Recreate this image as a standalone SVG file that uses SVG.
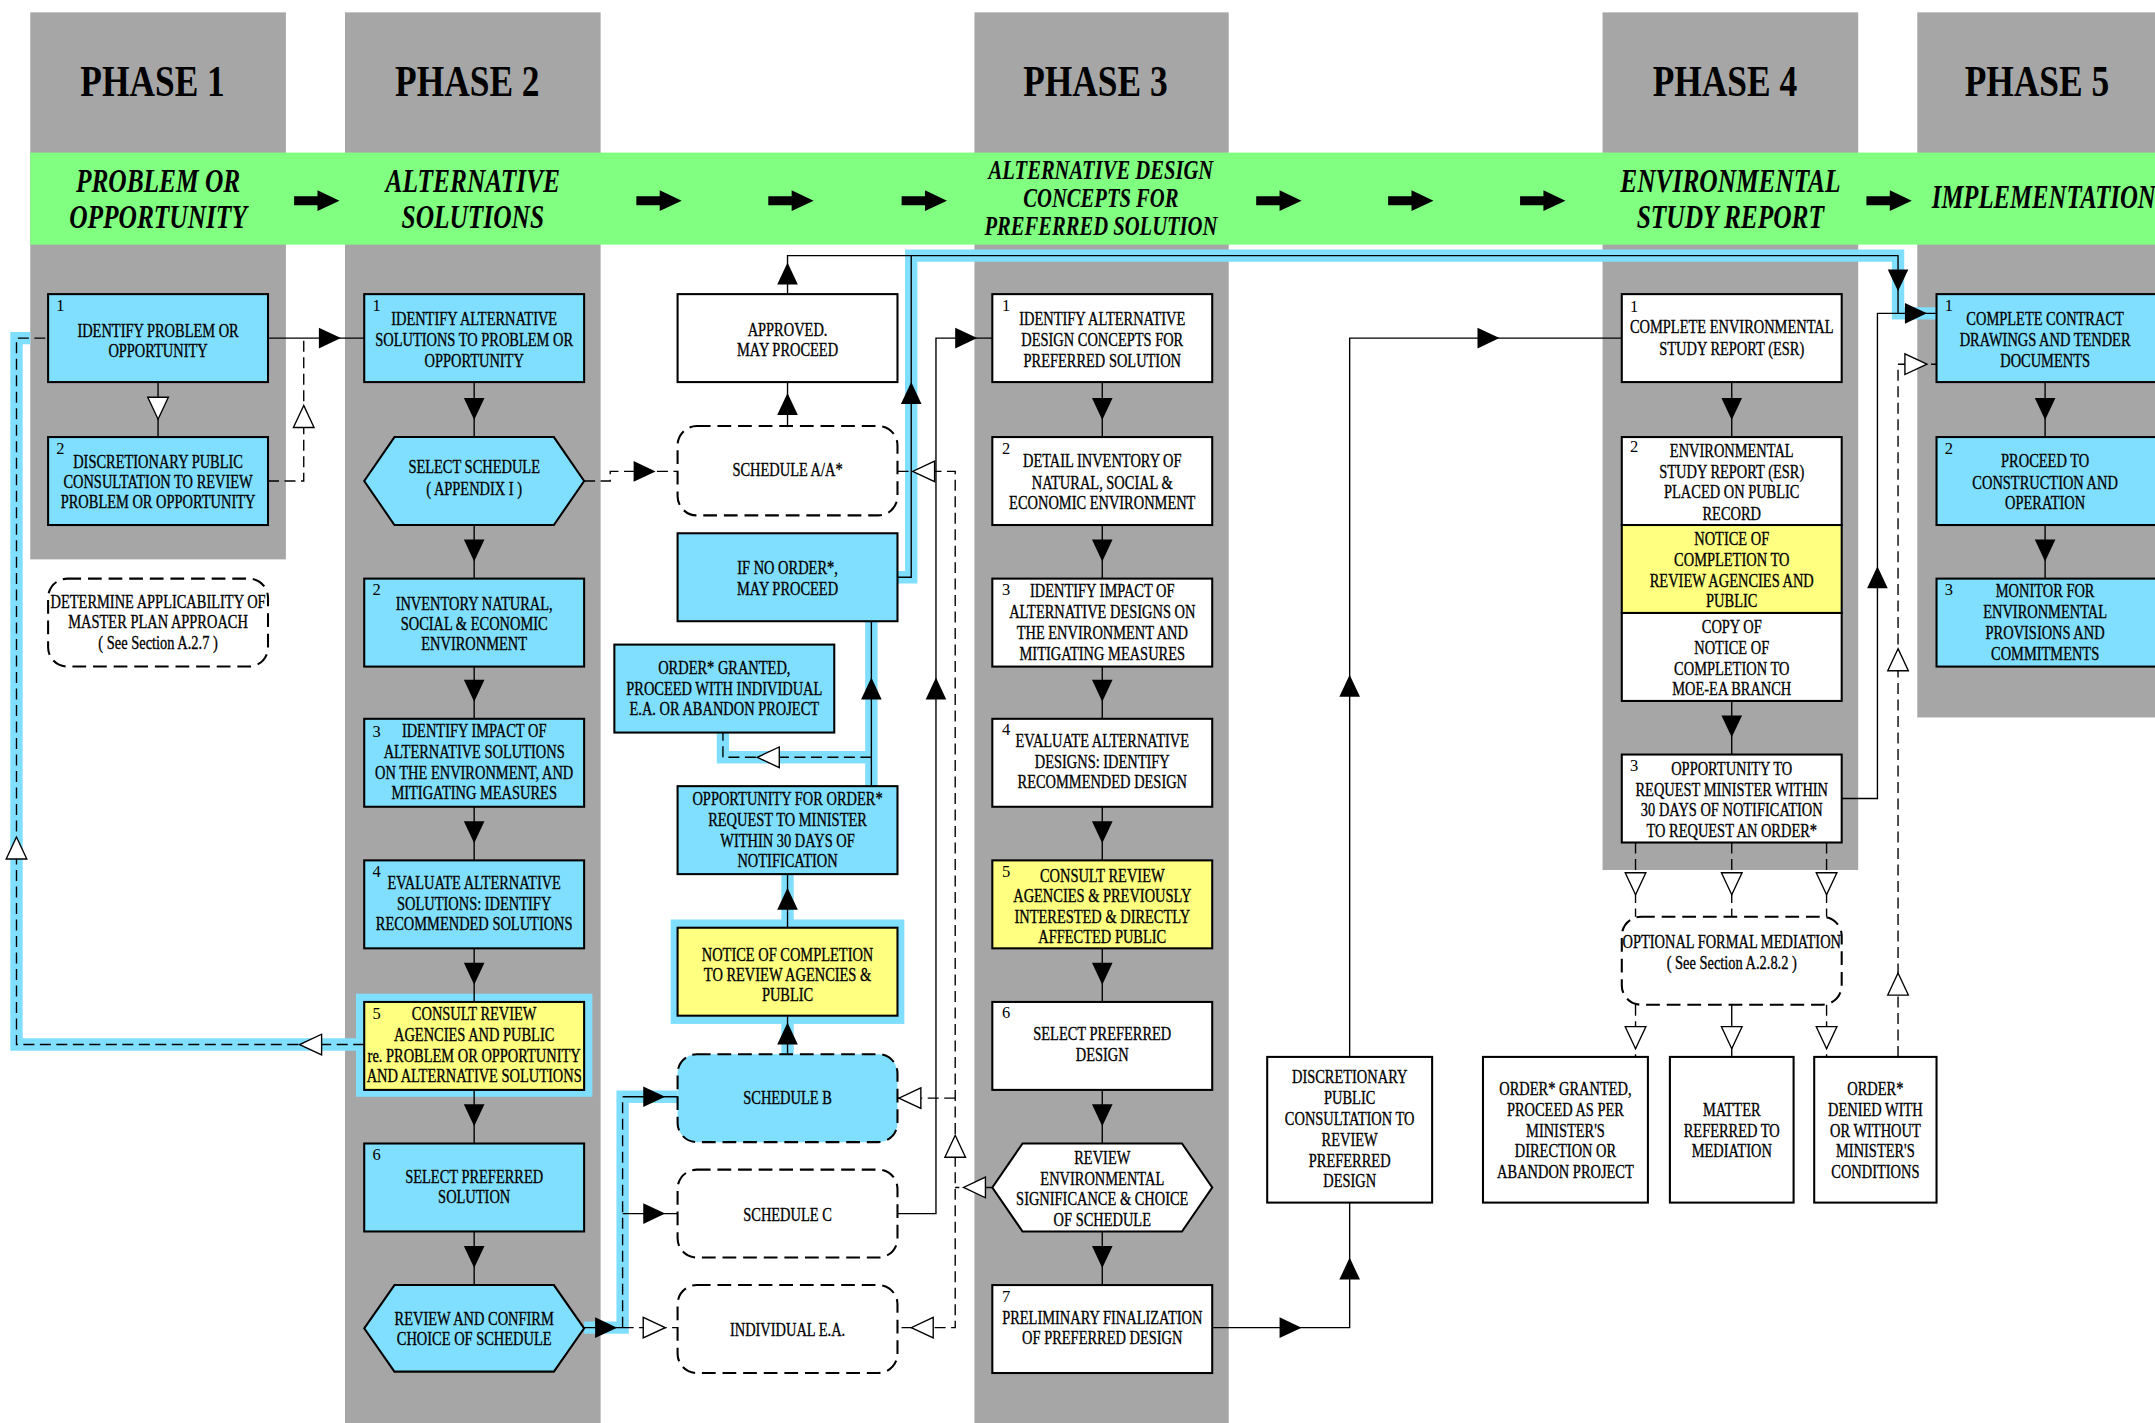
<svg xmlns="http://www.w3.org/2000/svg" width="2155" height="1423" viewBox="0 0 2155 1423">
<style>
.g{fill:#a6a6a6}
.band{fill:#80ff80}
.bx{stroke:#000;stroke-width:1.5}
.blue{fill:#80dfff}
.yel{fill:#ffff80}
.wht{fill:#fff}
.dsh{stroke-dasharray:10 5}
.t{font-family:"Liberation Serif",serif;font-size:14px;text-anchor:middle;fill:#000;stroke:#000;stroke-width:0.25}
.n{font-family:"Liberation Serif",serif;font-size:12px;fill:#000}
.ph{font-family:"Liberation Serif",serif;font-weight:bold;font-size:33px;text-anchor:middle;fill:#000}
.lab{font-family:"Liberation Serif",serif;font-style:italic;font-weight:bold;font-size:24px;text-anchor:middle;fill:#000}
.lab2{font-family:"Liberation Serif",serif;font-style:italic;font-weight:bold;font-size:20px;text-anchor:middle;fill:#000}
.c{fill:none;stroke:#000;stroke-width:1}
.cd{stroke-dasharray:8 4}
.hl{fill:none;stroke:#80dfff;stroke-width:9}
.hlr{fill:#80dfff}
.ah{fill:#000}
.ao{fill:#fff;stroke:#000;stroke-width:1}
</style>
<defs>
<path id="A" d="M0,0 L-16,-7.5 L-16,7.5 Z"/>
<path id="BA" d="M0,-3.3 L17,-3.3 L17,-7.5 L33,0 L17,7.5 L17,3.3 L0,3.3 Z"/>
</defs>
<rect width="2155" height="1423" fill="#fff"/>
<g transform="scale(1.3744)">
<g id="columns">
<rect class="g" x="22" y="9" width="186" height="398"/>
<rect class="g" x="251" y="9" width="186" height="1030"/>
<rect class="g" x="709" y="9" width="185" height="1030"/>
<rect class="g" x="1166" y="9" width="186" height="624"/>
<rect class="g" x="1395" y="9" width="175" height="513"/>
<rect class="band" x="22" y="111" width="1550" height="67"/>
<text class="ph" transform="translate(111,70) scale(0.78,1)" x="0" y="0">PHASE 1</text>
<text class="ph" transform="translate(340,70) scale(0.78,1)" x="0" y="0">PHASE 2</text>
<text class="ph" transform="translate(797,70) scale(0.78,1)" x="0" y="0">PHASE 3</text>
<text class="ph" transform="translate(1255,70) scale(0.78,1)" x="0" y="0">PHASE 4</text>
<text class="ph" transform="translate(1482,70) scale(0.78,1)" x="0" y="0">PHASE 5</text>
<g transform="translate(115,0) scale(0.77,1)"><text class="lab"><tspan x="0" y="139.5">PROBLEM OR</tspan><tspan x="0" y="166">OPPORTUNITY</tspan></text></g>
<g transform="translate(344,0) scale(0.77,1)"><text class="lab"><tspan x="0" y="139.5">ALTERNATIVE</tspan><tspan x="0" y="166">SOLUTIONS</tspan></text></g>
<g transform="translate(801,0) scale(0.75,1)"><text class="lab2"><tspan x="0" y="130">ALTERNATIVE DESIGN</tspan><tspan x="0" y="150.5">CONCEPTS FOR</tspan><tspan x="0" y="171">PREFERRED SOLUTION</tspan></text></g>
<g transform="translate(1259,0) scale(0.77,1)"><text class="lab"><tspan x="0" y="139.5">ENVIRONMENTAL</tspan><tspan x="0" y="166">STUDY REPORT</tspan></text></g>
<g transform="translate(1487,0) scale(0.75,1)"><text class="lab"><tspan x="0" y="151.5">IMPLEMENTATION</tspan></text></g>
<use href="#BA" class="ah" transform="translate(214,146)"/>
<use href="#BA" class="ah" transform="translate(463,146)"/>
<use href="#BA" class="ah" transform="translate(559,146)"/>
<use href="#BA" class="ah" transform="translate(656,146)"/>
<use href="#BA" class="ah" transform="translate(914,146)"/>
<use href="#BA" class="ah" transform="translate(1010,146)"/>
<use href="#BA" class="ah" transform="translate(1106,146)"/>
<use href="#BA" class="ah" transform="translate(1358,146)"/>
</g>
<g id="connectors">
<g id="highlights">
<path class="hl" d="M265,760 H12 V246 H22"/>
<rect class="hlr" x="259" y="723" width="172" height="75"/>
<rect class="hlr" x="488" y="669" width="170" height="76"/>
<path class="hl" d="M425,966 H453 V798 H493"/>
<path class="hl" d="M573,767 V739 M573,675 V636"/>
<path class="hl" d="M634,572 V452 M634,551 H526 V533"/>
<path class="hl" d="M653,420 H663 V186 H1381 V228 H1409"/>
</g>
<path class="c" d="M195,246 H265"/>
<path class="c" d="M573,310 V278"/>
<path class="c" d="M573,214 V186 H663"/>
<path class="c" d="M653,420 H663 V186 H1381 V228"/>
<path class="c" d="M1340,581 H1366 V228 H1409"/>
<path class="c" d="M634,572 V452"/>
<path class="c" d="M573,675 V636"/>
<path class="c" d="M573,767 V739"/>
<path class="c" d="M425,966 H453"/>
<path class="c" d="M453,798 H493"/>
<path class="c" d="M453,883 H493"/>
<path class="c" d="M653,883 H681 V246 H722"/>
<path class="c" d="M882,966 H982 V875"/>
<path class="c" d="M982,769 V246 H1180"/>
<path class="c" d="M115,278 V318"/>
<path class="c" d="M345,278 V318 M345,382 V421 M345,485 V523 M345,587 V626 M345,690 V729 M345,793 V832 M345,896 V935"/>
<path class="c" d="M802,278 V318 M802,382 V421 M802,485 V523 M802,587 V626 M802,690 V729 M802,793 V832 M802,896 V935"/>
<path class="c" d="M1260,278 V318 M1260,510 V549"/>
<path class="c" d="M1488,278 V318 M1488,382 V421"/>
<path class="c" d="M1260,731 V769"/>
<path class="c cd" d="M195,350 H221 V246"/>
<path class="c cd" d="M265,760 H12 V246 H35"/>
<path class="c cd" d="M425,350 H444 V343 H493"/>
<path class="c cd" d="M634,551 H526 V533"/>
<path class="c cd" d="M453,966 V798"/>
<path class="c cd" d="M453,966 H493"/>
<path class="c cd" d="M653,343 H695 V966 H653"/>
<path class="c cd" d="M695,799 H653"/>
<path class="c cd" d="M722,864 H695"/>
<path class="c cd" d="M1381,769 V265 H1409"/>
<path class="c cd" d="M1190,613 V667 M1260,613 V667 M1329,613 V667"/>
<path class="c cd" d="M1190,731 V769 M1329,731 V769"/>
<g id="arrowheads">
<use href="#A" class="ah" transform="translate(248,246)"/>
<use href="#A" class="ah" transform="translate(345,305.5) rotate(90)"/>
<use href="#A" class="ah" transform="translate(345,408.5) rotate(90)"/>
<use href="#A" class="ah" transform="translate(345,510.5) rotate(90)"/>
<use href="#A" class="ah" transform="translate(345,613.5) rotate(90)"/>
<use href="#A" class="ah" transform="translate(345,716.5) rotate(90)"/>
<use href="#A" class="ah" transform="translate(345,819.5) rotate(90)"/>
<use href="#A" class="ah" transform="translate(345,922.5) rotate(90)"/>
<use href="#A" class="ah" transform="translate(802,305.5) rotate(90)"/>
<use href="#A" class="ah" transform="translate(802,408.5) rotate(90)"/>
<use href="#A" class="ah" transform="translate(802,510.5) rotate(90)"/>
<use href="#A" class="ah" transform="translate(802,613.5) rotate(90)"/>
<use href="#A" class="ah" transform="translate(802,716.5) rotate(90)"/>
<use href="#A" class="ah" transform="translate(802,819.5) rotate(90)"/>
<use href="#A" class="ah" transform="translate(802,922.5) rotate(90)"/>
<use href="#A" class="ah" transform="translate(1260,305.5) rotate(90)"/>
<use href="#A" class="ah" transform="translate(1260,536.5) rotate(90)"/>
<use href="#A" class="ah" transform="translate(1488,305.5) rotate(90)"/>
<use href="#A" class="ah" transform="translate(1488,408.5) rotate(90)"/>
<use href="#A" class="ah" transform="translate(477,343)"/>
<use href="#A" class="ah" transform="translate(573,286) rotate(-90)"/>
<use href="#A" class="ah" transform="translate(573,191) rotate(-90)"/>
<use href="#A" class="ah" transform="translate(663,278) rotate(-90)"/>
<use href="#A" class="ah" transform="translate(1381,212) rotate(90)"/>
<use href="#A" class="ah" transform="translate(1402,228)"/>
<use href="#A" class="ah" transform="translate(1366,412) rotate(-90)"/>
<use href="#A" class="ah" transform="translate(634,493) rotate(-90)"/>
<use href="#A" class="ah" transform="translate(573,646) rotate(-90)"/>
<use href="#A" class="ah" transform="translate(573,744) rotate(-90)"/>
<use href="#A" class="ah" transform="translate(449,966)"/>
<use href="#A" class="ah" transform="translate(484,798)"/>
<use href="#A" class="ah" transform="translate(484,883)"/>
<use href="#A" class="ah" transform="translate(681,493) rotate(-90)"/>
<use href="#A" class="ah" transform="translate(711,246)"/>
<use href="#A" class="ah" transform="translate(947,966)"/>
<use href="#A" class="ah" transform="translate(982,915) rotate(-90)"/>
<use href="#A" class="ah" transform="translate(982,491) rotate(-90)"/>
<use href="#A" class="ah" transform="translate(1091,246)"/>
<use href="#A" class="ao" transform="translate(115,305) rotate(90)"/>
<use href="#A" class="ao" transform="translate(221,295) rotate(-90)"/>
<use href="#A" class="ao" transform="translate(218,760) rotate(180)"/>
<use href="#A" class="ao" transform="translate(12,609) rotate(-90)"/>
<use href="#A" class="ao" transform="translate(551,551) rotate(180)"/>
<use href="#A" class="ao" transform="translate(484,966)"/>
<use href="#A" class="ao" transform="translate(664,343) rotate(180)"/>
<use href="#A" class="ao" transform="translate(654,799) rotate(180)"/>
<use href="#A" class="ao" transform="translate(701,864) rotate(180)"/>
<use href="#A" class="ao" transform="translate(663,966) rotate(180)"/>
<use href="#A" class="ao" transform="translate(695,826) rotate(-90)"/>
<use href="#A" class="ao" transform="translate(1402,265)"/>
<use href="#A" class="ao" transform="translate(1381,472) rotate(-90)"/>
<use href="#A" class="ao" transform="translate(1381,708) rotate(-90)"/>
<use href="#A" class="ao" transform="translate(1190,651) rotate(90)"/>
<use href="#A" class="ao" transform="translate(1260,651) rotate(90)"/>
<use href="#A" class="ao" transform="translate(1329,651) rotate(90)"/>
<use href="#A" class="ao" transform="translate(1190,763) rotate(90)"/>
<use href="#A" class="ao" transform="translate(1260,763) rotate(90)"/>
<use href="#A" class="ao" transform="translate(1329,763) rotate(90)"/>
</g>
</g>
<g id="p1-identify">
<rect class="bx blue" x="35" y="214" width="160" height="64"/>
<text class="n" x="41" y="226">1</text>
<g transform="translate(115,0) scale(0.75,1)"><text class="t"><tspan x="0" y="245">IDENTIFY PROBLEM OR</tspan><tspan x="0" y="259.5">OPPORTUNITY</tspan></text></g>
</g>
<g id="p1-discretionary">
<rect class="bx blue" x="35" y="318" width="160" height="64"/>
<text class="n" x="41" y="330">2</text>
<g transform="translate(115,0) scale(0.75,1)"><text class="t"><tspan x="0" y="340.5">DISCRETIONARY PUBLIC</tspan><tspan x="0" y="355">CONSULTATION TO REVIEW</tspan><tspan x="0" y="369.5">PROBLEM OR OPPORTUNITY</tspan></text></g>
</g>
<g id="p1-master-plan">
<rect class="bx wht dsh" x="35" y="421" width="160" height="64" rx="14"/>
<g transform="translate(115,0) scale(0.75,1)"><text class="t"><tspan x="0" y="442.5">DETERMINE APPLICABILITY OF</tspan><tspan x="0" y="457">MASTER PLAN APPROACH</tspan><tspan x="0" y="472.5">( See Section A.2.7 )</tspan></text></g>
</g>
<g id="p2-identify">
<rect class="bx blue" x="265" y="214" width="160" height="64"/>
<text class="n" x="271" y="226">1</text>
<g transform="translate(345,0) scale(0.75,1)"><text class="t"><tspan x="0" y="236.5">IDENTIFY ALTERNATIVE</tspan><tspan x="0" y="252">SOLUTIONS TO PROBLEM OR</tspan><tspan x="0" y="267">OPPORTUNITY</tspan></text></g>
</g>
<g id="p2-select-schedule">
<polygon class="bx blue" points="265,350 287,318 403,318 425,350 403,382 287,382"/>
<g transform="translate(345,0) scale(0.75,1)"><text class="t"><tspan x="0" y="344.5">SELECT SCHEDULE</tspan><tspan x="0" y="360">( APPENDIX I )</tspan></text></g>
</g>
<g id="p2-inventory">
<rect class="bx blue" x="265" y="421" width="160" height="64"/>
<text class="n" x="271" y="433">2</text>
<g transform="translate(345,0) scale(0.75,1)"><text class="t"><tspan x="0" y="444">INVENTORY NATURAL,</tspan><tspan x="0" y="458.5">SOCIAL &amp; ECONOMIC</tspan><tspan x="0" y="473">ENVIRONMENT</tspan></text></g>
</g>
<g id="p2-impact">
<rect class="bx blue" x="265" y="523" width="160" height="64"/>
<text class="n" x="271" y="536">3</text>
<g transform="translate(345,0) scale(0.75,1)"><text class="t"><tspan x="0" y="536">IDENTIFY IMPACT OF</tspan><tspan x="0" y="551.5">ALTERNATIVE SOLUTIONS</tspan><tspan x="0" y="567">ON THE ENVIRONMENT, AND</tspan><tspan x="0" y="581.5">MITIGATING MEASURES</tspan></text></g>
</g>
<g id="p2-evaluate">
<rect class="bx blue" x="265" y="626" width="160" height="64"/>
<text class="n" x="271" y="638">4</text>
<g transform="translate(345,0) scale(0.75,1)"><text class="t"><tspan x="0" y="647">EVALUATE ALTERNATIVE</tspan><tspan x="0" y="662">SOLUTIONS: IDENTIFY</tspan><tspan x="0" y="676.5">RECOMMENDED SOLUTIONS</tspan></text></g>
</g>
<g id="p2-consult">
<rect class="bx yel" x="265" y="729" width="160" height="64"/>
<text class="n" x="271" y="741.5">5</text>
<g transform="translate(345,0) scale(0.75,1)"><text class="t"><tspan x="0" y="742">CONSULT REVIEW</tspan><tspan x="0" y="757.5">AGENCIES AND PUBLIC</tspan><tspan x="0" y="772.5">re. PROBLEM OR OPPORTUNITY</tspan><tspan x="0" y="787">AND ALTERNATIVE SOLUTIONS</tspan></text></g>
</g>
<g id="p2-select-preferred">
<rect class="bx blue" x="265" y="832" width="160" height="64"/>
<text class="n" x="271" y="844">6</text>
<g transform="translate(345,0) scale(0.75,1)"><text class="t"><tspan x="0" y="860.5">SELECT PREFERRED</tspan><tspan x="0" y="875.5">SOLUTION</tspan></text></g>
</g>
<g id="p2-review-confirm">
<polygon class="bx blue" points="265,966.5 287,935 403,935 425,966.5 403,998 287,998"/>
<g transform="translate(345,0) scale(0.75,1)"><text class="t"><tspan x="0" y="964">REVIEW AND CONFIRM</tspan><tspan x="0" y="978.5">CHOICE OF SCHEDULE</tspan></text></g>
</g>
<g id="m-approved">
<rect class="bx wht" x="493" y="214" width="160" height="64"/>
<g transform="translate(573,0) scale(0.75,1)"><text class="t"><tspan x="0" y="244.5">APPROVED.</tspan><tspan x="0" y="259">MAY PROCEED</tspan></text></g>
</g>
<g id="m-schedule-aa">
<rect class="bx wht dsh" x="493" y="310" width="160" height="65" rx="14"/>
<g transform="translate(573,0) scale(0.75,1)"><text class="t"><tspan x="0" y="346.5">SCHEDULE A/A*</tspan></text></g>
</g>
<g id="m-if-no-order">
<rect class="bx blue" x="493" y="388" width="160" height="64"/>
<g transform="translate(573,0) scale(0.75,1)"><text class="t"><tspan x="0" y="418">IF NO ORDER*,</tspan><tspan x="0" y="433">MAY PROCEED</tspan></text></g>
</g>
<g id="m-order-granted">
<rect class="bx blue" x="447" y="469" width="160" height="64"/>
<g transform="translate(527,0) scale(0.75,1)"><text class="t"><tspan x="0" y="490.5">ORDER* GRANTED,</tspan><tspan x="0" y="505.5">PROCEED WITH INDIVIDUAL</tspan><tspan x="0" y="520.5">E.A. OR ABANDON PROJECT</tspan></text></g>
</g>
<g id="m-opportunity">
<rect class="bx blue" x="493" y="572" width="160" height="64"/>
<g transform="translate(573,0) scale(0.75,1)"><text class="t"><tspan x="0" y="586">OPPORTUNITY FOR ORDER*</tspan><tspan x="0" y="601">REQUEST TO MINISTER</tspan><tspan x="0" y="616">WITHIN 30 DAYS OF</tspan><tspan x="0" y="631">NOTIFICATION</tspan></text></g>
</g>
<g id="m-notice">
<rect class="bx yel" x="493" y="675" width="160" height="64"/>
<g transform="translate(573,0) scale(0.75,1)"><text class="t"><tspan x="0" y="699">NOTICE OF COMPLETION</tspan><tspan x="0" y="713.5">TO REVIEW AGENCIES &amp;</tspan><tspan x="0" y="728.5">PUBLIC</tspan></text></g>
</g>
<g id="m-schedule-b">
<rect class="bx blue dsh" x="493" y="767" width="160" height="64" rx="14"/>
<g transform="translate(573,0) scale(0.75,1)"><text class="t"><tspan x="0" y="803">SCHEDULE B</tspan></text></g>
</g>
<g id="m-schedule-c">
<rect class="bx wht dsh" x="493" y="851" width="160" height="64" rx="14"/>
<g transform="translate(573,0) scale(0.75,1)"><text class="t"><tspan x="0" y="888.5">SCHEDULE C</tspan></text></g>
</g>
<g id="m-individual-ea">
<rect class="bx wht dsh" x="493" y="935" width="160" height="64" rx="14"/>
<g transform="translate(573,0) scale(0.75,1)"><text class="t"><tspan x="0" y="972">INDIVIDUAL E.A.</tspan></text></g>
</g>
<g id="p3-identify">
<rect class="bx wht" x="722" y="214" width="160" height="64"/>
<text class="n" x="729" y="226">1</text>
<g transform="translate(802,0) scale(0.75,1)"><text class="t"><tspan x="0" y="236.5">IDENTIFY  ALTERNATIVE</tspan><tspan x="0" y="252">DESIGN CONCEPTS FOR</tspan><tspan x="0" y="267">PREFERRED SOLUTION</tspan></text></g>
</g>
<g id="p3-inventory">
<rect class="bx wht" x="722" y="318" width="160" height="64"/>
<text class="n" x="729" y="330">2</text>
<g transform="translate(802,0) scale(0.75,1)"><text class="t"><tspan x="0" y="340">DETAIL INVENTORY OF</tspan><tspan x="0" y="355.5">NATURAL, SOCIAL &amp;</tspan><tspan x="0" y="370.5">ECONOMIC ENVIRONMENT</tspan></text></g>
</g>
<g id="p3-impact">
<rect class="bx wht" x="722" y="421" width="160" height="64"/>
<text class="n" x="729" y="433">3</text>
<g transform="translate(802,0) scale(0.75,1)"><text class="t"><tspan x="0" y="434.5">IDENTIFY IMPACT OF</tspan><tspan x="0" y="450">ALTERNATIVE DESIGNS ON</tspan><tspan x="0" y="465">THE ENVIRONMENT AND</tspan><tspan x="0" y="480">MITIGATING MEASURES</tspan></text></g>
</g>
<g id="p3-evaluate">
<rect class="bx wht" x="722" y="523" width="160" height="64"/>
<text class="n" x="729" y="535">4</text>
<g transform="translate(802,0) scale(0.75,1)"><text class="t"><tspan x="0" y="543.5">EVALUATE ALTERNATIVE</tspan><tspan x="0" y="558.5">DESIGNS:  IDENTIFY</tspan><tspan x="0" y="573.5">RECOMMENDED DESIGN</tspan></text></g>
</g>
<g id="p3-consult">
<rect class="bx yel" x="722" y="626" width="160" height="64"/>
<text class="n" x="729" y="638">5</text>
<g transform="translate(802,0) scale(0.75,1)"><text class="t"><tspan x="0" y="642">CONSULT REVIEW</tspan><tspan x="0" y="656.5">AGENCIES &amp; PREVIOUSLY</tspan><tspan x="0" y="671.5">INTERESTED &amp; DIRECTLY</tspan><tspan x="0" y="686">AFFECTED PUBLIC</tspan></text></g>
</g>
<g id="p3-select-preferred">
<rect class="bx wht" x="722" y="729" width="160" height="64"/>
<text class="n" x="729" y="741">6</text>
<g transform="translate(802,0) scale(0.75,1)"><text class="t"><tspan x="0" y="757">SELECT PREFERRED</tspan><tspan x="0" y="772">DESIGN</tspan></text></g>
</g>
<g id="p3-review-env">
<polygon class="bx wht" points="722,864 744,832 860,832 882,864 860,896 744,896"/>
<g transform="translate(802,0) scale(0.75,1)"><text class="t"><tspan x="0" y="847">REVIEW</tspan><tspan x="0" y="862">ENVIRONMENTAL</tspan><tspan x="0" y="877">SIGNIFICANCE &amp; CHOICE</tspan><tspan x="0" y="892">OF SCHEDULE</tspan></text></g>
</g>
<g id="p3-preliminary">
<rect class="bx wht" x="722" y="935" width="160" height="64"/>
<text class="n" x="729" y="947">7</text>
<g transform="translate(802,0) scale(0.75,1)"><text class="t"><tspan x="0" y="963">PRELIMINARY FINALIZATION</tspan><tspan x="0" y="978">OF PREFERRED DESIGN</tspan></text></g>
</g>
<g id="p3-discretionary">
<rect class="bx wht" x="922" y="769" width="120" height="106"/>
<g transform="translate(982,0) scale(0.75,1)"><text class="t"><tspan x="0" y="788">DISCRETIONARY</tspan><tspan x="0" y="803">PUBLIC</tspan><tspan x="0" y="818.5">CONSULTATION TO</tspan><tspan x="0" y="833.5">REVIEW</tspan><tspan x="0" y="849">PREFERRED</tspan><tspan x="0" y="864">DESIGN</tspan></text></g>
</g>
<g id="p4-complete-esr">
<rect class="bx wht" x="1180" y="214" width="160" height="64"/>
<text class="n" x="1186" y="227">1</text>
<g transform="translate(1260,0) scale(0.75,1)"><text class="t"><tspan x="0" y="242.5">COMPLETE ENVIRONMENTAL</tspan><tspan x="0" y="258.5">STUDY REPORT (ESR)</tspan></text></g>
</g>
<g id="p4-esr-public">
<rect class="bx wht" x="1180" y="318" width="160" height="64"/>
<rect class="bx yel" x="1180" y="382" width="160" height="64"/>
<rect class="bx wht" x="1180" y="446" width="160" height="64"/>
<text class="n" x="1186" y="329">2</text>
<g transform="translate(1260,0) scale(0.75,1)"><text class="t"><tspan x="0" y="332.5">ENVIRONMENTAL</tspan><tspan x="0" y="348">STUDY REPORT (ESR)</tspan><tspan x="0" y="362.5">PLACED ON PUBLIC</tspan><tspan x="0" y="378">RECORD</tspan><tspan x="0" y="396.5">NOTICE OF</tspan><tspan x="0" y="412">COMPLETION TO</tspan><tspan x="0" y="427">REVIEW AGENCIES AND</tspan><tspan x="0" y="441.5">PUBLIC</tspan><tspan x="0" y="460.5">COPY OF</tspan><tspan x="0" y="476">NOTICE OF</tspan><tspan x="0" y="491">COMPLETION TO</tspan><tspan x="0" y="506">MOE-EA BRANCH</tspan></text></g>
</g>
<g id="p4-opportunity">
<rect class="bx wht" x="1180" y="549" width="160" height="64"/>
<text class="n" x="1186" y="561">3</text>
<g transform="translate(1260,0) scale(0.75,1)"><text class="t"><tspan x="0" y="564">OPPORTUNITY TO</tspan><tspan x="0" y="579">REQUEST MINISTER WITHIN</tspan><tspan x="0" y="594">30 DAYS OF NOTIFICATION</tspan><tspan x="0" y="609">TO REQUEST AN ORDER*</tspan></text></g>
</g>
<g id="p4-mediation">
<rect class="bx wht dsh" x="1180" y="667" width="160" height="64" rx="14"/>
<g transform="translate(1260,0) scale(0.75,1)"><text class="t"><tspan x="0" y="690">OPTIONAL FORMAL MEDIATION</tspan><tspan x="0" y="705">( See Section A.2.8.2 )</tspan></text></g>
</g>
<g id="p4-order-granted">
<rect class="bx wht" x="1079" y="769" width="120" height="106"/>
<g transform="translate(1139,0) scale(0.75,1)"><text class="t"><tspan x="0" y="797">ORDER* GRANTED,</tspan><tspan x="0" y="812">PROCEED AS PER</tspan><tspan x="0" y="827">MINISTER'S</tspan><tspan x="0" y="842">DIRECTION OR</tspan><tspan x="0" y="857">ABANDON PROJECT</tspan></text></g>
</g>
<g id="p4-matter-referred">
<rect class="bx wht" x="1215" y="769" width="90" height="106"/>
<g transform="translate(1260,0) scale(0.75,1)"><text class="t"><tspan x="0" y="812">MATTER</tspan><tspan x="0" y="827">REFERRED TO</tspan><tspan x="0" y="842">MEDIATION</tspan></text></g>
</g>
<g id="p4-order-denied">
<rect class="bx wht" x="1320" y="769" width="89" height="106"/>
<g transform="translate(1364.5,0) scale(0.75,1)"><text class="t"><tspan x="0" y="797">ORDER*</tspan><tspan x="0" y="812">DENIED WITH</tspan><tspan x="0" y="827">OR WITHOUT</tspan><tspan x="0" y="842">MINISTER'S</tspan><tspan x="0" y="857">CONDITIONS</tspan></text></g>
</g>
<g id="p5-contract">
<rect class="bx blue" x="1409" y="214" width="160" height="64"/>
<text class="n" x="1415" y="226">1</text>
<g transform="translate(1488,0) scale(0.75,1)"><text class="t"><tspan x="0" y="236.5">COMPLETE CONTRACT</tspan><tspan x="0" y="252">DRAWINGS AND TENDER</tspan><tspan x="0" y="267">DOCUMENTS</tspan></text></g>
</g>
<g id="p5-construction">
<rect class="bx blue" x="1409" y="318" width="160" height="64"/>
<text class="n" x="1415" y="330">2</text>
<g transform="translate(1488,0) scale(0.75,1)"><text class="t"><tspan x="0" y="340">PROCEED TO</tspan><tspan x="0" y="355.5">CONSTRUCTION AND</tspan><tspan x="0" y="370.5">OPERATION</tspan></text></g>
</g>
<g id="p5-monitor">
<rect class="bx blue" x="1409" y="421" width="160" height="64"/>
<text class="n" x="1415" y="433">3</text>
<g transform="translate(1488,0) scale(0.75,1)"><text class="t"><tspan x="0" y="434.5">MONITOR FOR</tspan><tspan x="0" y="450">ENVIRONMENTAL</tspan><tspan x="0" y="465">PROVISIONS AND</tspan><tspan x="0" y="480">COMMITMENTS</tspan></text></g>
</g>
</g>
</svg>
